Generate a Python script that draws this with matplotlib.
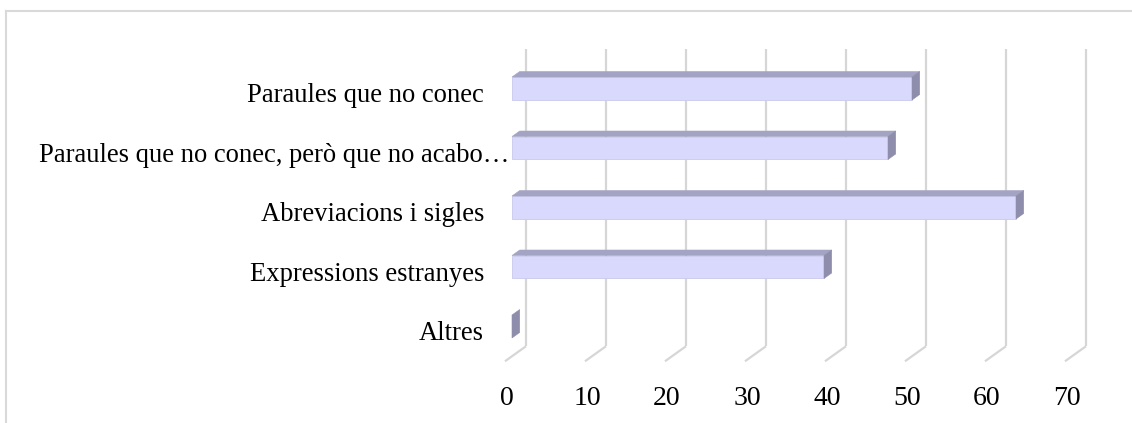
import matplotlib
matplotlib.use('Agg')
import matplotlib.pyplot as plt
from matplotlib.patches import Polygon
from matplotlib.lines import Line2D

# 数据
categories = ['Altres', 'Expressions estranyes', 'Abreviacions i sigles',
              'Paraules que no conec, però que no acabo…', 'Paraules que no conec']
values = [0, 39, 63, 47, 50]
x_ticks = [0, 10, 20, 30, 40, 50, 60, 70]

plt.rcParams['font.family'] = ['Liberation Serif', 'DejaVu Serif']

FRONT = '#d9d9fe'
TOP = '#a3a3c4'
SIDE = '#8e8eac'
GRID = '#d6d6d6'

fig = plt.figure(figsize=(11.32, 4.23), dpi=100)
fig.patch.set_facecolor('white')
ax = fig.add_axes([505 / 1132, 1 - 361.25 / 423, 560 / 1132, 297.5 / 423])
ax.set_xlim(0, 70)
ax.set_ylim(-0.5, 4.5)
ax.axis('off')

# 斜投影的深度偏移（数据单位）
DX = 21 / 8.0
DY = 15 / 59.5


def proj(v, c, d):
    return (v + d * DX, c + d * DY)


# 背景网格线（后墙竖线 + 地板斜线）
for t in x_ticks:
    x0, y0 = proj(t, -0.5, 1)
    x1, y1 = proj(t, 4.5, 1)
    ax.add_line(Line2D([x0, x1], [y0, y1], color=GRID, lw=1.6, zorder=1,
                       clip_on=False, solid_capstyle='butt'))
    xf, yf = proj(t, -0.5, 0)
    ax.add_line(Line2D([x0, xf], [y0, yf], color=GRID, lw=1.6, zorder=1,
                       clip_on=False, solid_capstyle='butt'))
    ax.text(t + 0.25, -1.12, str(t), ha='center', va='center', fontsize=20,
            color='black')

# 3D 条形
d0, d1 = 1 / 3, 0.7
h = 0.193
for i, (cat, v) in enumerate(zip(categories, values)):
    lo, hi = i - h, i + h
    front = [proj(0, lo, d0), proj(v, lo, d0), proj(v, hi, d0), proj(0, hi, d0)]
    top = [proj(0, hi, d0), proj(v, hi, d0), proj(v, hi, d1), proj(0, hi, d1)]
    side = [proj(v, lo, d0), proj(v, hi, d0), proj(v, hi, d1), proj(v, lo, d1)]
    if v > 0:
        ax.add_patch(Polygon(front, closed=True, facecolor=FRONT,
                             edgecolor='#c9c9ec', lw=0.6, zorder=3, clip_on=False))
        ax.add_patch(Polygon(top, closed=True, facecolor=TOP, edgecolor=TOP,
                             lw=0.4, zorder=3, clip_on=False))
    ax.add_patch(Polygon(side, closed=True, facecolor=SIDE, edgecolor=SIDE,
                         lw=0.4, zorder=4, clip_on=False))

    if cat.endswith('…'):
        ax.text(0.6, i - 0.04, cat, ha='right', va='center', fontsize=19.2)
    else:
        ax.text(-2.6, i - 0.04, cat, ha='right', va='center', fontsize=19.2)

# 图表外框
fig.add_artist(Line2D([6 / 1132, 6 / 1132], [0, 1 - 11 / 423],
                      transform=fig.transFigure, color='#d9d9d9', lw=1.5))
fig.add_artist(Line2D([6 / 1132, 1], [1 - 11 / 423, 1 - 11 / 423],
                      transform=fig.transFigure, color='#d9d9d9', lw=1.5))

fig.savefig('out.png', dpi=100, facecolor='white')
